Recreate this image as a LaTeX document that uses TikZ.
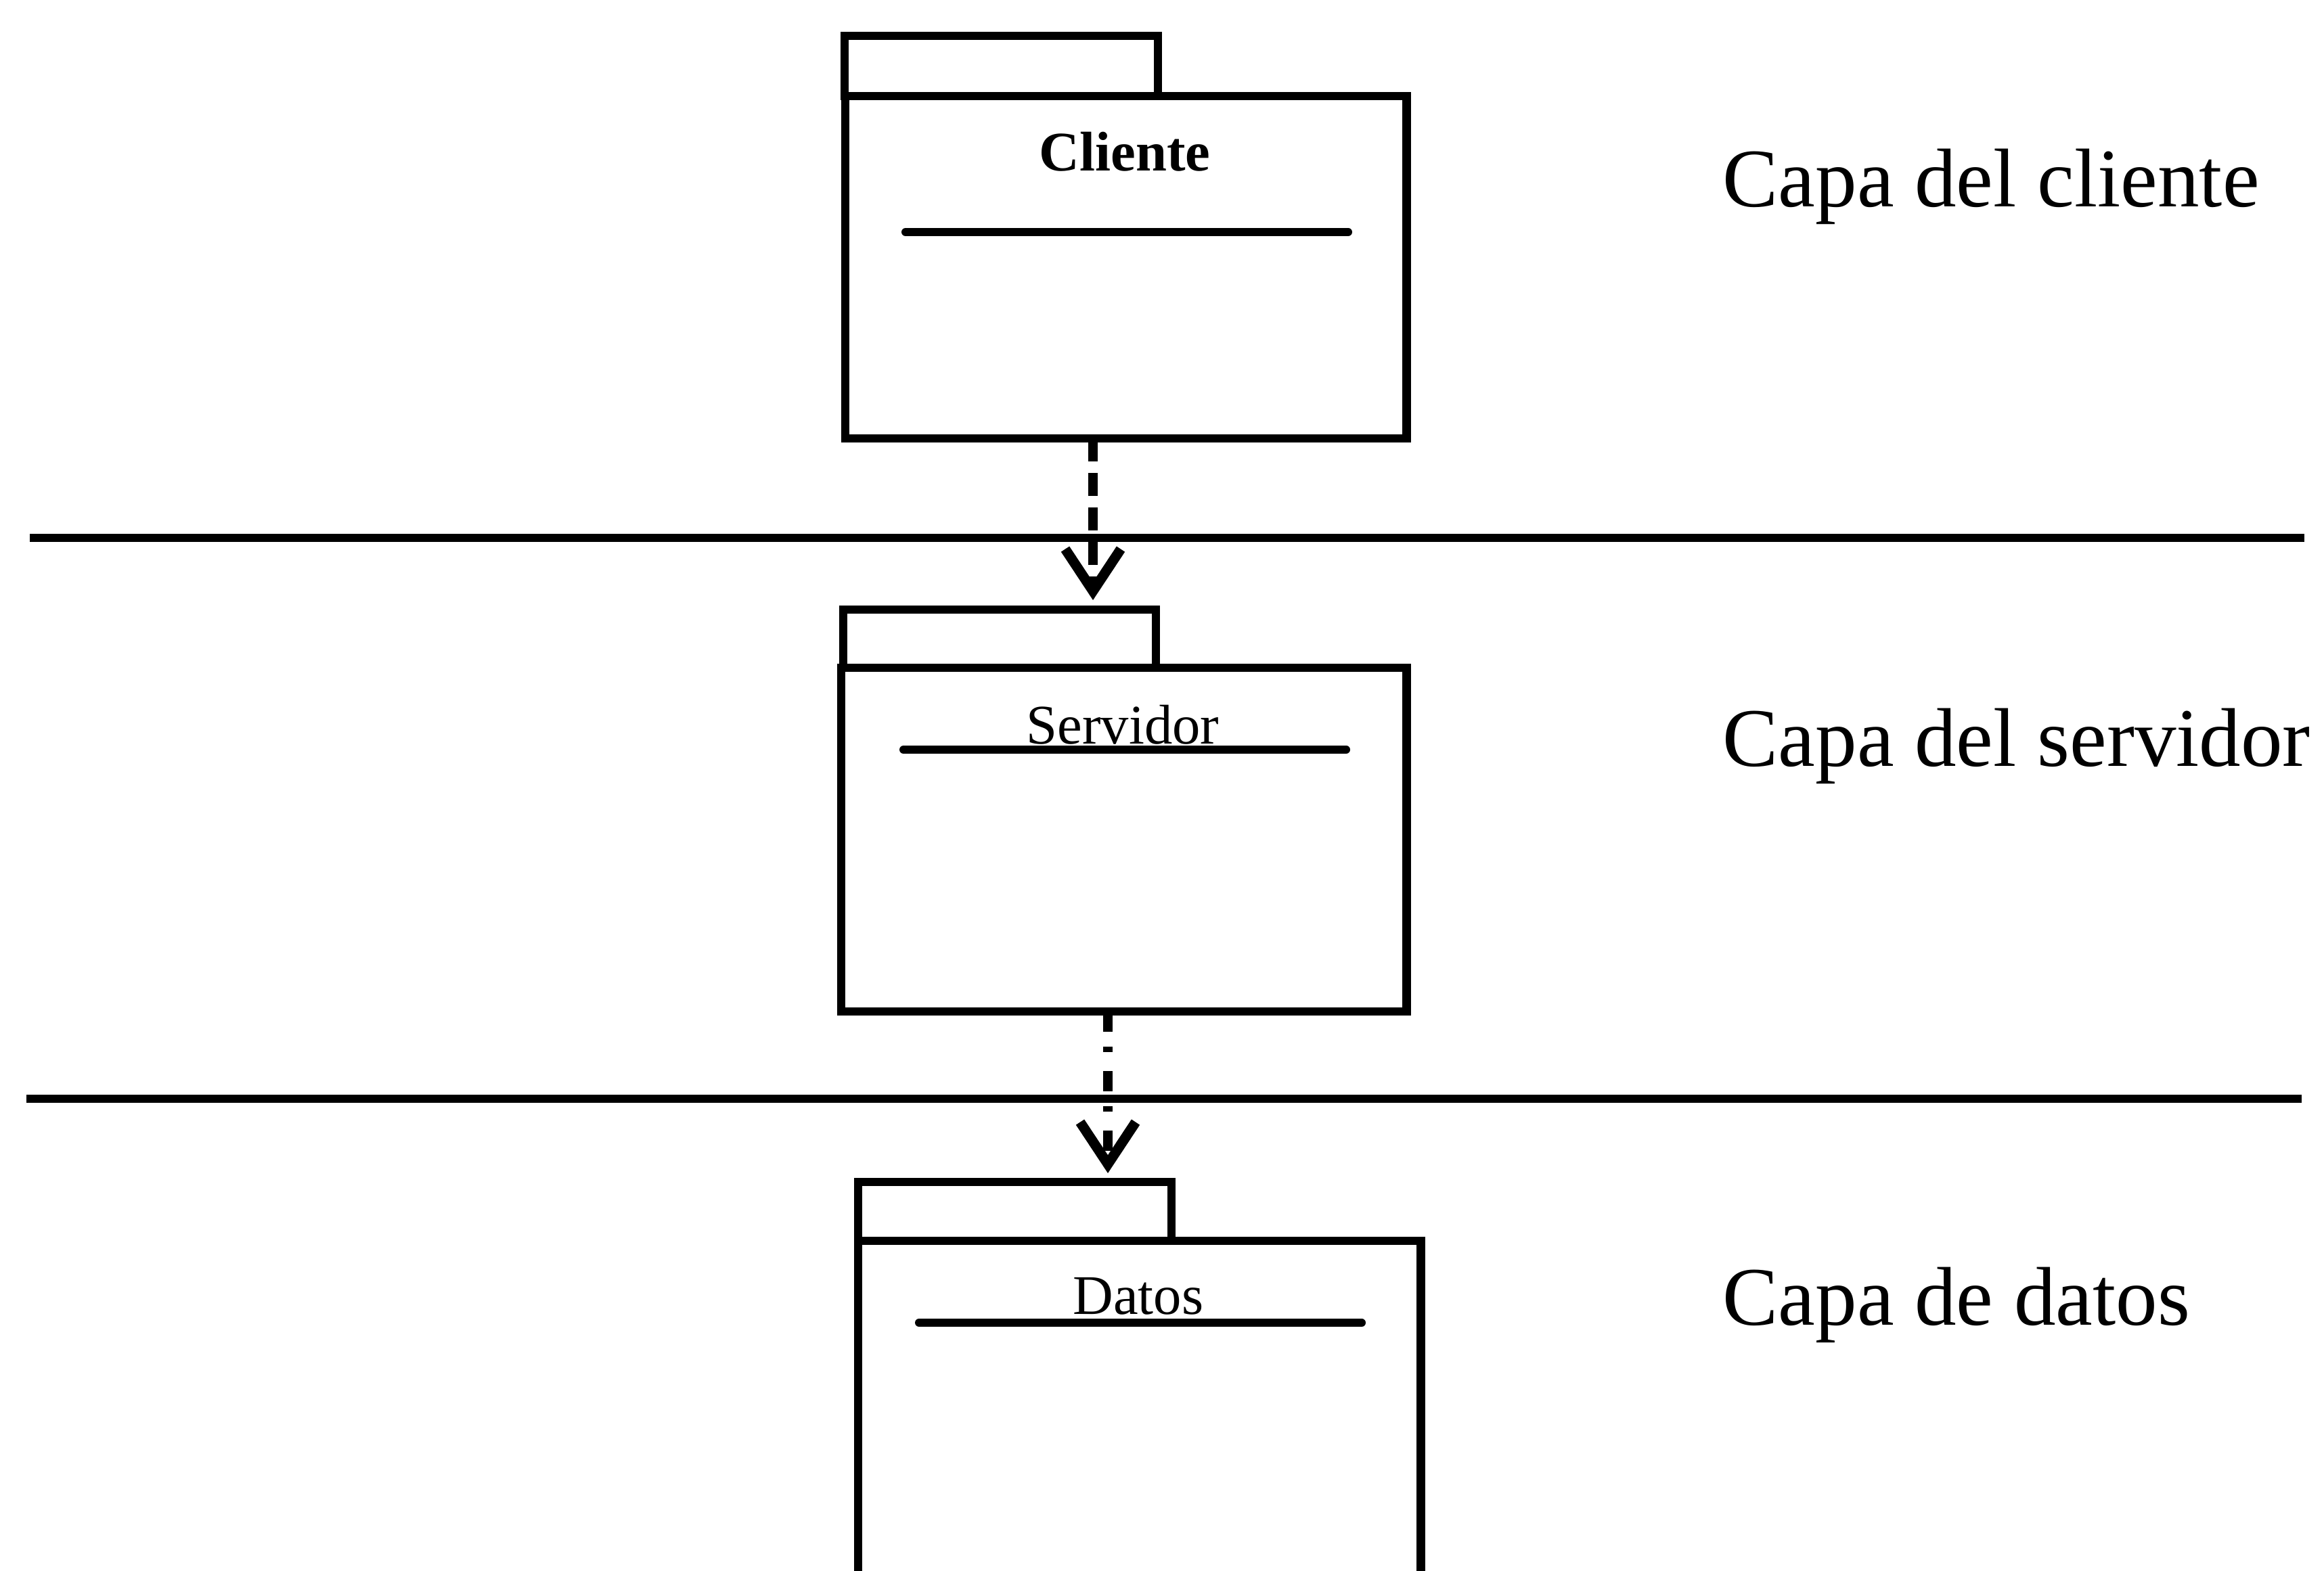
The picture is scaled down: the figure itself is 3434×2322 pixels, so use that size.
\documentclass[tikz,border=0pt]{standalone}
\usepackage{fontspec}
\setmainfont{Liberation Serif}
\usetikzlibrary{arrows.meta}

\tikzset{
  pkg/.style={draw, line width=3.5pt, rectangle, anchor=north west,
    inner sep=0pt, outer sep=0pt},
  pkgname/.style={inner sep=0pt, anchor=base, font=\fontsize{23.5}{28}\selectfont},
  rule/.style={line width=3.4pt, line cap=round},
  layerline/.style={line width=3.6pt},
  layername/.style={inner sep=0pt, anchor=base west, font=\fontsize{35}{42}\selectfont},
  deptip/.style={-{Straight Barb[length=0.62cm, width=0.82cm, line width=4.2pt]}, line width=4.2pt},
  depdash/.style={deptip, dash pattern=on 0.34cm off 0.17cm},
  depdot/.style={deptip, dash pattern=on 0.3cm off 0.22cm on 0.08cm off 0.28cm},
}

\begin{document}
\begin{tikzpicture}[x=0.01cm, y=-0.01cm]
\useasboundingbox (0,0) rectangle (3434,2322);
\clip (0,0) rectangle (3434,2322);

% layer separators
\coordinate (s1l) at (44,795);
\coordinate (s1r) at (3405,795);
\coordinate (s2l) at (39,1624);
\coordinate (s2r) at (3401,1624);
\draw[layerline] (s1l) -- (s1r);
\draw[layerline] (s2l) -- (s2r);

% package: Cliente
\node[pkg, minimum width=4.63cm, minimum height=0.89cm] (clitab) at (1248,53) {};
\node[pkg, minimum width=8.29cm, minimum height=5.06cm] (cli) at (1249,142) {};
\node[pkgname, font=\fontsize{23.5}{28}\selectfont\bfseries] (cliname) at (1662,253) {Cliente};
\coordinate (cliL) at (1338,343);
\coordinate (cliR) at (1992,343);
\draw[rule] (cliL) -- (cliR);

% package: Servidor
\node[pkg, minimum width=4.62cm, minimum height=0.86cm] (srvtab) at (1246,901) {};
\node[pkg, minimum width=8.35cm, minimum height=5.08cm] (srv) at (1243,987) {};
\node[pkgname] (srvname) at (1659,1099) {Servidor};
\coordinate (srvL) at (1335,1108);
\coordinate (srvR) at (1989,1108);
\draw[rule] (srvL) -- (srvR);

% package: Datos (runs past the lower edge)
\node[pkg, minimum width=4.63cm, minimum height=0.87cm] (dattab) at (1268,1747) {};
\node[pkg, minimum width=8.31cm, minimum height=5.4cm] (dat) at (1268,1834) {};
\node[pkgname] (datname) at (1682,1942) {Datos};
\coordinate (datL) at (1358,1955);
\coordinate (datR) at (2012,1955);
\draw[rule] (datL) -- (datR);

% dependencies
\coordinate (d1) at (1615,0);
\coordinate (d2) at (1637,0);
\draw[depdash, shorten >=0.14cm] (d1 |- cli.south) -- (d1 |- srvtab.north);
\draw[depdot, shorten >=0.13cm] (d2 |- srv.south) -- (d2 |- dattab.north);

% layer names
\node[layername] (lcli) at (2545,306) {Capa del cliente};
\node[layername] (lsrv) at (2545,1132) {Capa del servidor};
\node[layername] (ldat) at (2545,1958) {Capa de datos};
\end{tikzpicture}
\end{document}
